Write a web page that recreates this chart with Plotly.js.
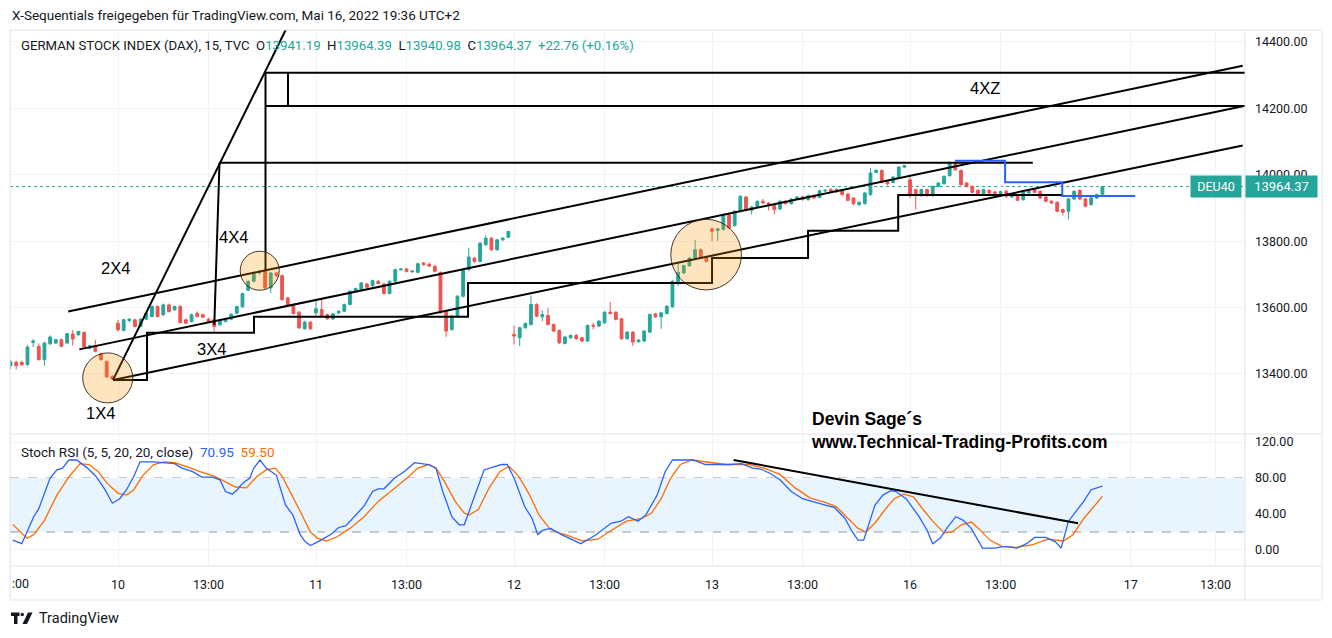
<!DOCTYPE html>
<html><head><meta charset="utf-8">
<script src="https://cdn.plot.ly/plotly-3.0.1.min.js"></script>
<style>html,body{margin:0;padding:0;background:#fff;}#chart{width:1332px;height:638px;}</style>
</head><body><div id="chart"></div>
<script>
// ---------- DATA (15-min bars; bar index 0 = first bar of May 10) ----------
const firstBarIndex = -19;
const openP = [13425,13435,13435,13428,13495,13483,13443,13491,13493,13503,13493,13520,13518,13525,13477,13485,13461,13438,13393,
13553,13531,13561,13563,13543,13565,13573,13603,13578,13608,13593,13603,13563,13558,13583,13578,13565,13563,13548,13558,13565,13583,13602,13652,13679,13704,13709,13659,13704,13696,13629,13606,13586,13536,13556,
13584,13594,13579,13566,13584,13589,13609,13649,13654,13671,13666,13679,13671,13642,13679,13714,13716,13708,13706,13734,13730,13724,13706,13589,13534,13574,13634,13714,13749,13739,13789,13809,13774,13804,13812,
13519,13509,13539,13549,13609,13572,13576,13549,13531,13492,13509,13516,13509,13499,13547,13544,13554,13586,13586,13566,13506,13526,13497,13499,13526,13581,13572,13582,13602,13674,13704,13726,13749,13774,13751,
13837,13832,13835,13880,13847,13890,13933,13893,13905,13920,13915,13910,13897,13920,13913,13927,13933,13925,13937,13932,13951,13955,13955,13953,13942,13930,13910,13913,13940,14007,14013,13980,13977,13990,14023,
13985,13955,13937,13955,13937,13965,13973,13997,14037,14013,13975,13965,13953,13943,13953,13948,13944,13950,13933,13937,13925,13945,13955,13950,13933,13920,13917,13895,13890,13927,13953,13927,13910,13930,13941.19];
const highP = [13442,13440,13440,13487,13505,13492,13497,13516,13506,13506,13524,13532,13530,13528,13488,13503,13464,13440,13396,
13563,13566,13567,13566,13568,13586,13606,13607,13612,13612,13606,13607,13566,13582,13588,13582,13569,13566,13566,13568,13582,13605,13645,13682,13705,13712,13716,13707,13708,13700,13632,13610,13590,13560,13559,
13624,13624,13582,13584,13592,13612,13652,13660,13677,13674,13684,13683,13674,13682,13717,13719,13720,13712,13735,13737,13736,13728,13708,13592,13578,13638,13718,13780,13753,13797,13818,13813,13807,13812,13831,
13546,13542,13555,13636,13613,13592,13599,13552,13534,13514,13519,13520,13512,13549,13554,13562,13589,13617,13589,13569,13529,13529,13505,13532,13582,13584,13587,13607,13682,13734,13729,13752,13804,13778,13755,
13840,13840,13883,13884,13893,13938,13936,13906,13923,13927,13918,13913,13923,13924,13930,13936,13937,13940,13941,13955,13956,13960,13959,13956,13945,13933,13920,13948,14020,14016,14016,13983,13996,14026,14030,
14000,13958,13958,13958,13968,13978,13998,14040,14042,14016,13978,13968,13956,13958,13956,13952,13952,13955,13943,13940,13950,13953,13960,13953,13936,13923,13920,13898,13930,13953,13956,13930,13933,13943,13964.39];
const lowP = [13415,13413,13424,13424,13481,13440,13425,13487,13490,13480,13490,13485,13515,13478,13474,13465,13440,13388,13382,
13528,13528,13555,13540,13540,13562,13570,13570,13575,13585,13590,13552,13550,13555,13570,13568,13555,13528,13545,13555,13562,13580,13600,13650,13676,13700,13655,13644,13692,13620,13603,13579,13535,13533,13532,
13574,13572,13563,13562,13580,13586,13606,13646,13651,13658,13663,13670,13640,13640,13676,13711,13706,13704,13703,13726,13722,13706,13582,13512,13530,13570,13630,13710,13735,13736,13786,13770,13771,13800,13809,
13489,13484,13536,13546,13571,13559,13546,13526,13490,13489,13506,13503,13496,13496,13534,13541,13551,13578,13561,13503,13503,13484,13494,13496,13523,13569,13536,13579,13599,13664,13701,13723,13746,13746,13736,
13800,13800,13832,13837,13844,13887,13890,13880,13902,13912,13892,13880,13894,13910,13910,13924,13922,13922,13927,13929,13948,13947,13945,13937,13920,13908,13905,13910,13937,14004,13974,13968,13974,13987,14020,
13930,13895,13934,13934,13934,13962,13970,13994,14012,13967,13962,13944,13940,13940,13942,13940,13941,13930,13930,13920,13922,13942,13944,13927,13917,13912,13887,13877,13865,13924,13924,13902,13907,13927,13940.98];
const closeP = [13437,13425,13428,13481,13499,13443,13493,13511,13503,13483,13521,13505,13528,13481,13485,13468,13443,13391,13385,
13533,13563,13565,13543,13565,13583,13603,13573,13608,13588,13603,13555,13553,13578,13573,13571,13558,13543,13563,13565,13580,13603,13642,13679,13702,13709,13659,13704,13696,13624,13606,13582,13539,13556,13536,
13596,13574,13566,13581,13589,13609,13649,13657,13674,13661,13681,13672,13642,13679,13714,13716,13709,13710,13732,13729,13725,13709,13584,13529,13574,13634,13714,13752,13739,13794,13809,13774,13804,13809,13829,
13514,13539,13552,13609,13574,13579,13549,13529,13494,13511,13516,13506,13499,13546,13544,13559,13586,13582,13564,13506,13526,13496,13502,13529,13579,13572,13584,13604,13679,13706,13726,13749,13774,13749,13739,
13830,13837,13880,13840,13890,13935,13893,13903,13920,13915,13907,13895,13920,13913,13927,13933,13925,13937,13930,13952,13953,13950,13949,13940,13923,13913,13917,13945,14005,14013,13977,13973,13993,14023,14027,
13940,13940,13955,13937,13965,13975,13995,14037,14015,13970,13965,13947,13943,13955,13945,13944,13949,13935,13940,13923,13947,13950,13947,13930,13920,13915,13890,13887,13927,13950,13927,13905,13930,13940,13964.37];

// Stoch RSI (5,5,20,20): bar index / value
const stochKx = [-18.6,-17,-14.9,-14,-12,-10.8,-9.8,-8.7,-7.3,-5.4,-3.9,-2.3,-1,0.3,1.5,2.8,3.9,6.3,7.9,10,11.3,13.2,14.8,16.7,18,19,20.2,21.1,22,23.3,24,25.1,26.2,28,29.6,30.9,32.2,33.1,34,35.3,37.8,39,40.3,42.2,43.5,45,46,47,48.9,50.8,52.4,53.6,54.9,56.2,57.4,59,60.3,61.2,62.8,64.7,66.3,67.8,68.8,70,71.9,73.2,74.2,75.1,76.5,78.4,81.8,84.5,87.2,88.9,90.2,91.9,93.3,94.3,95.3,96.7,98,99.7,101.7,103.8,106.1,108.2,110.2,112.2,113.6,115.3,117,119,121,122.3,124.4,126.7,128.5,129.8,130.8,131.8,133.8,135.2,136.6,137.5,139.3,141.6,143,144,145.3,146.7,148.1,149.4,150.8,152.8,154.9,156.8,158.9,160.6,162,164,165.7,166.7,168,169.7,170.7,172,174];
const stochK = [11,7,37,46,80,89,91,100,100,91,82,67,52,57,67,82,98,98,97,96,91,87,81,81,78,65,62,67,74,80,91,100,91,83,50,39,17,9,5,9,18,25,27,40,49,65,68,68,80,88,97,96,95,91,65,37,28,28,57,89,92,95,95,80,48,35,17,22,24,17,7,17,30,32,37,32,39,50,61,87,100,100,100,95,95,95,96,91,90,85,78,65,57,55,51,47,35,20,11,11,50,61,66,65,57,37,22,7,13,26,37,33,24,2,2,4,2,7,14,14,9,2,32,46,54,67,70.95];
const stochDx = [-18.6,-16.1,-14.9,-13,-10.8,-8.6,-6.7,-5.1,-3.5,-1.9,0,1.5,2.8,4.4,6.3,8.2,10,12,14.5,17,18.9,20.8,22.7,24.6,26.2,27.8,29,30.6,32.2,34,35.3,36.9,38.8,41,43.5,46,48.6,51.1,53,54.9,56.2,57.7,59.6,61.2,62.1,63.7,65.6,67.5,69.1,70.7,72.6,74.4,76.4,77.9,79.1,82.1,84.8,87.2,89.9,92.6,94.3,96,97.7,99.4,101.4,104.1,107.5,111.5,114.2,117,119.7,122.3,125,127,129.1,130.8,132.2,133.8,135.6,137.2,138.9,140.6,142.3,144,146,147.4,149.1,150.8,152.1,154.1,156.2,158.9,161.7,164.4,167.1,168.8,170.7,172.4,174];
const stochD = [28.5,13,17,33,61,82,96,95,87,74,63,61,67,83,95,98,97,93,87,82,76,70,69,82,89,91,82,63,43,20,13,10,15,24,37,54,67,80,91,95,91,76,54,41,39,45,69,87,93,83,63,39,23,19,17,10,12,22,32,35,41,57,80,95,100,98,95,95,91,84,69,58,53,48,35,24,20,30,45,57,62,59,45,32,19,20,28,31,24,11,4,3,6,12,10,17,35,48,59.5];

// axis ticks
const timeTickPos = [0,16,35,51,70,86,105,121,140,156,179,194];
const timeTickText = ["10","13:00","11","13:00","12","13:00","13","13:00","16","13:00","17","13:00"];
const priceTicks = [13400,13600,13800,14000,14200,14400];
const stochTicks = [0,40,80,120];

// drawings (bar index, price)
const fan2x4X = [-0.88, 30.5],            fan2x4Y = [13382, 14466];
const stairX = [-0.88,5.13,5.13,24.04,24.04,61.87,61.87,105.0,105.0,121.97,121.97,137.9,137.9,167.05];
const stairY = [13382,13382,13524,13524,13572,13572,13674,13674,13749,13749,13831,13831,13939,13939];
const vert4x4X = [17.94, 17.02],          vert4x4Y = [14036, 13548];
const level14036X = [17.94, 161.7],       level14036Y = [14036, 14036];
const vertBoxX = [26.07, 26.07],          vertBoxY = [14307, 13713];
const level14307X = [26.07, 199.5],       level14307Y = [14307, 14307];
const level14207X = [26.07, 199.5],       level14207Y = [14207, 14207];
const boxSideX = [30.05, 30.05],          boxSideY = [14307, 14207];
const chanAX = [-8.8, 198.8],             chanAY = [13588, 14328];
const chanBX = [-6.84, 198.8],            chanBY = [13474, 14206];
const chanCX = [-0.88, 198.8],            chanCY = [13382, 14088];
const blueStepX = [147.96,156.8,156.8,166.9,166.9,179.8];
const blueStepY = [14042.5,14042.5,13977.4,13977.4,13936,13936];
const stochTrendX = [108.8, 169.7],       stochTrendY = [100, 29.7];
// circles: [x0, x1, y0, y1]
const circle1X4 = [-6.24, 2.6, 13312.7, 13463.3];
const circle4X4 = [21.6, 28.5, 13652.1, 13769.6];
const circle13 = [97.7, 110.2, 13653, 13865.7];
// label positions
const labelText = ["2X4","4X4","3X4","1X4","4XZ"];
const labelX = [-0.53, 20.33, 16.6, -3.18, 153.3];
const labelY = [13719, 13812.7, 13475.3, 13282.5, 14261.4];
const lastClose = 13964.37;

// ---------- BUILD ----------
const barIdx = openP.map((_, k) => firstBarIndex + k);
const FONT = "Roboto, 'Open Sans', sans-serif";
const TXT = '#131722';
const px = v => (v - 10) / 1235;      // page px -> paper x
const py = v => (566 - v) / 536;      // page px -> paper y

function seg(x, y, color, width, yaxis) {
  return {type:'scatter', mode:'lines', x:x, y:y, xaxis:'x', yaxis:yaxis||'y',
          line:{color:color||'#000', width:width||2}, hoverinfo:'skip', showlegend:false};
}

const traces = [
  {type:'candlestick', x:barIdx, open:openP, high:highP, low:lowP, close:closeP,
   xaxis:'x', yaxis:'y', showlegend:false, hoverinfo:'skip', whiskerwidth:0,
   increasing:{line:{color:'#26a69a', width:1}, fillcolor:'#26a69a'},
   decreasing:{line:{color:'#ef5350', width:1}, fillcolor:'#ef5350'}},
  {type:'scatter', mode:'lines', x:stochDx, y:stochD, xaxis:'x', yaxis:'y2',
   line:{color:'#ff6d00', width:1.3}, hoverinfo:'skip', showlegend:false},
  {type:'scatter', mode:'lines', x:stochKx, y:stochK, xaxis:'x', yaxis:'y2',
   line:{color:'#2962ff', width:1.3}, hoverinfo:'skip', showlegend:false},
  seg(chanAX, chanAY), seg(chanBX, chanBY), seg(chanCX, chanCY),
  seg(fan2x4X, fan2x4Y), seg(stairX, stairY), seg(vert4x4X, vert4x4Y),
  seg(level14036X, level14036Y), seg(vertBoxX, vertBoxY),
  seg(level14307X, level14307Y), seg(level14207X, level14207Y), seg(boxSideX, boxSideY),
  seg(blueStepX, blueStepY, '#2962ff', 2),
  seg(stochTrendX, stochTrendY, '#000', 2, 'y2')
];

const circleStyle = {fillcolor:'rgba(255,152,0,0.25)', line:{color:'rgba(50,35,20,0.9)', width:1}, layer:'above'};
const shapes = [
  {type:'rect', xref:'paper', yref:'y2', x0:0, x1:1, y0:20, y1:80, fillcolor:'rgba(33,150,243,0.1)', line:{width:0}, layer:'below'},
  {type:'line', xref:'paper', yref:'y2', x0:0, x1:1, y0:80, y1:80, line:{color:'#9598a1', width:1, dash:'dash'}, layer:'below'},
  {type:'line', xref:'paper', yref:'y2', x0:0, x1:1, y0:20, y1:20, line:{color:'#9598a1', width:1, dash:'dash'}, layer:'below'},
  {type:'line', xref:'paper', yref:'y', x0:0, x1:1, y0:lastClose, y1:lastClose, line:{color:'#26a69a', width:1, dash:'dot'}, layer:'below'},
  Object.assign({type:'circle', xref:'x', yref:'y', x0:circle1X4[0], x1:circle1X4[1], y0:circle1X4[2], y1:circle1X4[3]}, circleStyle),
  Object.assign({type:'circle', xref:'x', yref:'y', x0:circle4X4[0], x1:circle4X4[1], y0:circle4X4[2], y1:circle4X4[3]}, circleStyle),
  Object.assign({type:'circle', xref:'x', yref:'y', x0:circle13[0], x1:circle13[1], y0:circle13[2], y1:circle13[3]}, circleStyle),
  {type:'rect', xref:'paper', yref:'paper', x0:px(10), x1:px(1322), y0:py(600), y1:py(30), line:{color:'#e0e3eb', width:1}},
  {type:'line', xref:'paper', yref:'paper', x0:px(1245), x1:px(1245), y0:py(600), y1:py(30), line:{color:'#e0e3eb', width:1}},
  {type:'line', xref:'paper', yref:'paper', x0:px(10), x1:px(1322), y0:py(566), y1:py(566), line:{color:'#e0e3eb', width:1}},
  {type:'line', xref:'paper', yref:'paper', x0:px(10), x1:px(1322), y0:py(434), y1:py(434), line:{color:'#e0e3eb', width:1}},
  {type:'path', xref:'paper', yref:'paper', path:`M ${px(11)} ${py(612.5)} L ${px(19.5)} ${py(612.5)} L ${px(19.5)} ${py(616)} L ${px(17.5)} ${py(616)} L ${px(17.5)} ${py(624)} L ${px(14)} ${py(624)} L ${px(14)} ${py(616)} L ${px(11)} ${py(616)} Z`, fillcolor:'#131722', line:{width:0}},
  {type:'circle', xref:'paper', yref:'paper', x0:px(20.5), x1:px(24), y0:py(616.2), y1:py(612.7), fillcolor:'#131722', line:{width:0}},
  {type:'path', xref:'paper', yref:'paper', path:`M ${px(28)} ${py(612.5)} L ${px(32.5)} ${py(612.5)} L ${px(27)} ${py(624)} L ${px(22.5)} ${py(624)} Z`, fillcolor:'#131722', line:{width:0}}
];

const teal = '#26a69a';
const annotations = [
  {xref:'paper', yref:'paper', x:px(10), y:py(15), xanchor:'left', yanchor:'middle', showarrow:false,
   text:'X-Sequentials freigegeben für TradingView.com, Mai 16, 2022 19:36 UTC+2', font:{family:FONT, size:13.5, color:TXT}},
  {xref:'paper', yref:'paper', x:px(19), y:py(46), xanchor:'left', yanchor:'middle', showarrow:false,
   text:`GERMAN STOCK INDEX (DAX), 15, TVC  O<span style="color:${teal}">13941.19</span>  H<span style="color:${teal}">13964.39</span>  L<span style="color:${teal}">13940.98</span>  C<span style="color:${teal}">13964.37</span>  <span style="color:${teal}">+22.76 (+0.16%)</span>`,
   font:{family:FONT, size:13.2, color:TXT}},
  {xref:'paper', yref:'paper', x:px(19), y:py(452), xanchor:'left', yanchor:'middle', showarrow:false,
   text:'Stoch RSI (5, 5, 20, 20, close)  <span style="color:#2962ff">70.95</span>  <span style="color:#ff6d00">59.50</span>',
   font:{family:FONT, size:13.5, color:TXT}},
  {xref:'paper', yref:'paper', x:px(10), y:py(583), xanchor:'left', yanchor:'middle', showarrow:false,
   text:':00', font:{family:FONT, size:12.5, color:TXT}},
  {xref:'paper', yref:'paper', x:px(37), y:py(618), xanchor:'left', yanchor:'middle', showarrow:false,
   text:'TradingView', font:{family:FONT, size:14.5, color:TXT}},
  {xref:'x', yref:'y', x:122.2, y:13230, xanchor:'left', yanchor:'middle', align:'left', showarrow:false,
   text:'<b>Devin Sage´s<br>www.Technical-Trading-Profits.com</b>', font:{family:"'Liberation Sans', Arial, sans-serif", size:17.5, color:'#000'}},
  {xref:'paper', yref:'y', x:px(1242), y:lastClose, xanchor:'right', yanchor:'middle', showarrow:false,
   text:'DEU40', bgcolor:teal, font:{family:FONT, size:12.5, color:'#fff'}, borderpad:3, width:44},
  {xref:'paper', yref:'y', x:px(1245), y:lastClose, xanchor:'left', yanchor:'middle', showarrow:false,
   text:'13964.37', bgcolor:teal, font:{family:FONT, size:13, color:'#fff'}, borderpad:3, width:65}
];
labelText.forEach((t, k) => annotations.push({xref:'x', yref:'y', x:labelX[k], y:labelY[k], showarrow:false,
  text:t, font:{family:"'Liberation Sans', Arial, sans-serif", size:16.5, color:'#000'}}));

const layout = {
  width:1332, height:638, margin:{l:10, r:87, t:30, b:72},
  paper_bgcolor:'#fff', plot_bgcolor:'#fff', showlegend:false, dragmode:false,
  font:{family:FONT, size:12, color:TXT},
  xaxis:{domain:[0,1], range:[-19.09, 199.2], anchor:'y2', tickmode:'array', tickvals:timeTickPos, ticktext:timeTickText,
         showgrid:true, gridcolor:'#f0f3fa', gridwidth:1, ticks:'', showline:false, zeroline:false,
         rangeslider:{visible:false}, tickfont:{family:FONT, size:12.5, color:TXT}, ticklabelstandoff:9, fixedrange:true},
  yaxis:{domain:[0.2481, 1], range:[13222, 14436], anchor:'x', side:'right', tickmode:'array', tickvals:priceTicks,
         tickformat:'.2f', showgrid:true, gridcolor:'#f0f3fa', ticks:'', showline:false, zeroline:false,
         tickfont:{family:FONT, size:12.5, color:TXT}, ticklabelstandoff:9, fixedrange:true},
  yaxis2:{domain:[0, 0.2444], range:[-17.8, 127.8], anchor:'x', side:'right', tickmode:'array', tickvals:stochTicks,
         tickformat:'.2f', showgrid:true, gridcolor:'#f0f3fa', ticks:'', showline:false, zeroline:false,
         tickfont:{family:FONT, size:12.5, color:TXT}, ticklabelstandoff:9, fixedrange:true},
  shapes:shapes, annotations:annotations
};

Plotly.newPlot('chart', traces, layout, {displayModeBar:false, staticPlot:true});
</script></body></html>
